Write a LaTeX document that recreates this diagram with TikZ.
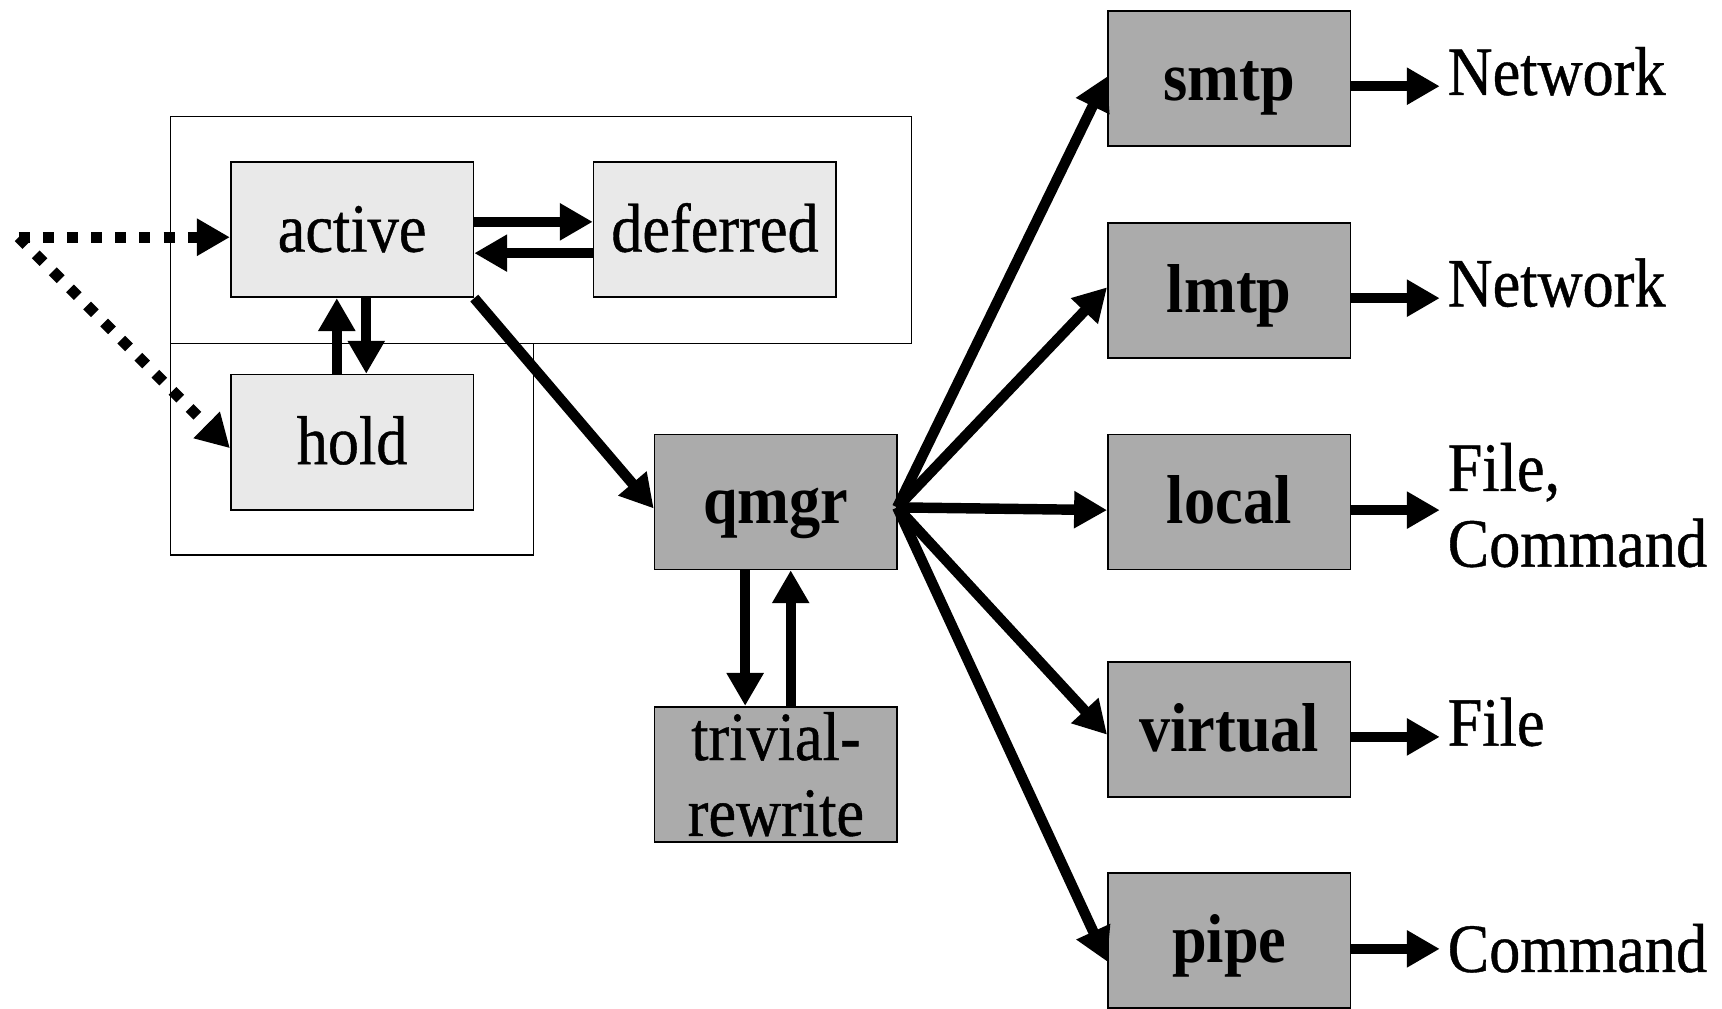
\documentclass[tikz,border=0pt]{standalone}
\usepackage{fontspec}
\setmainfont{Liberation Serif}[FakeStretch=0.9]
\newfontfamily\regfont{Liberation Serif}[FakeStretch=0.9, FakeBold=0.6]
\usetikzlibrary{arrows.meta}
\definecolor{boxlight}{HTML}{E9E9E9}
\definecolor{boxdark}{HTML}{ABABAB}
\begin{document}
\begin{tikzpicture}[x=1pt,y=-1pt,
  basebox/.style={draw, line width=1.5pt, minimum width=221pt, minimum height=123pt, inner sep=0pt, align=center},
  lightbox/.style={basebox, fill=boxlight, text height=40pt, text depth=0pt, font=\fontsize{63}{69}\regfont},
  darkbox/.style={basebox, fill=boxdark, text height=40pt, text depth=0pt, font=\fontsize{63}{69}\selectfont\bfseries},
  arr/.style={line width=9.5pt, -{Triangle[length=30pt,width=32pt]}},
  dots/.style={line width=10pt, dash pattern=on 10pt off 12pt, -{Triangle[length=30pt,width=32pt]}},
  outlbl/.style={anchor=base west, inner ysep=0pt, inner xsep=7pt, align=left, font=\fontsize{63}{69}\regfont},
  frame/.style={draw, line width=1.2pt}]
\useasboundingbox (0,0) rectangle (1568,918);
% outer frames
\draw[frame] (155,106) rectangle (830,312.5);
\draw[frame] (155,312.5) rectangle (486,505.5);
% queue boxes
\node[lightbox] (active) at (320.6,209.2) {active};
\node[lightbox] (deferred) at (651,209.2) {deferred};
\node[lightbox] (hold) at (320.6,402.6) {hold};
% daemons
\node[darkbox] (qmgr) at (706.5,457) {qmgr};
\node[basebox, fill=boxdark, font=\fontsize{63}{69}\regfont] (triv) at (706.5,705) {trivial-\\rewrite};
\node[darkbox] (smtp) at (1119.3,71.7) {smtp};
\node[darkbox] (lmtp) at (1119.3,264.6) {lmtp};
\node[darkbox] (local) at (1119.3,457) {local};
\node[darkbox] (virtual) at (1119.3,664) {virtual};
\node[darkbox] (pipe) at (1119.3,856.5) {pipe};
% output labels
\node[outlbl] (net1) at (1311,86.5) {Network};
\node[outlbl] (net2) at (1311,279) {Network};
\node[outlbl] (filecmd) at (1311,516) {File,\\Command};
\node[outlbl] (file) at (1311,679) {File};
\node[outlbl] (cmd) at (1311,885) {Command};
% helper coordinates
\coordinate (src) at (17,216);
\coordinate (yad1) at (0,202);
\coordinate (yad2) at (0,230.5);
\coordinate (xah1) at (306.7,0);
\coordinate (xah2) at (333.5,0);
\coordinate (xqt1) at (678.5,0);
\coordinate (xqt2) at (720,0);
\coordinate (qo) at (817,462);
\coordinate (qin) at (0,463);
\coordinate (ys1) at (0,78.5);
\coordinate (ys2) at (0,271.5);
\coordinate (ys3) at (0,464.5);
\coordinate (ys4) at (0,671);
\coordinate (ys5) at (0,864);
% incoming dotted
\draw[dots] (src) -- (active.west |- src);
\draw[dots] (src) -- ([yshift=-5.5pt]hold.west);
% active <-> deferred
\draw[arr] (active.east |- yad1) -- (deferred.west |- yad1);
\draw[arr] (deferred.west |- yad2) -- (active.east |- yad2);
% active <-> hold
\draw[arr] (hold.north -| xah1) -- (active.south -| xah1);
\draw[arr] (active.south -| xah2) -- (hold.north -| xah2);
% active -> qmgr
\draw[arr] (active.south east) -- (qmgr.west |- qin);
% qmgr <-> trivial-rewrite
\draw[arr] (qmgr.south -| xqt1) -- (triv.north -| xqt1);
\draw[arr] (triv.north -| xqt2) -- (qmgr.south -| xqt2);
% qmgr fan-out
\draw[arr] (qo) -- ([yshift=2pt]smtp.west);
\draw[arr] (qo) -- ([yshift=3pt]lmtp.west);
\draw[arr] (qo) -- (local.west |- ys3);
\draw[arr] (qo) -- ([yshift=-5pt]virtual.west);
\draw[arr] (qo) -- ([yshift=-19pt]pipe.west);
% outputs
\draw[arr] (smtp.east |- ys1) -- (net1.west |- ys1);
\draw[arr] (lmtp.east |- ys2) -- (net2.west |- ys2);
\draw[arr] (local.east |- ys3) -- (filecmd.west |- ys3);
\draw[arr] (virtual.east |- ys4) -- (file.west |- ys4);
\draw[arr] (pipe.east |- ys5) -- (cmd.west |- ys5);
\end{tikzpicture}
\end{document}
